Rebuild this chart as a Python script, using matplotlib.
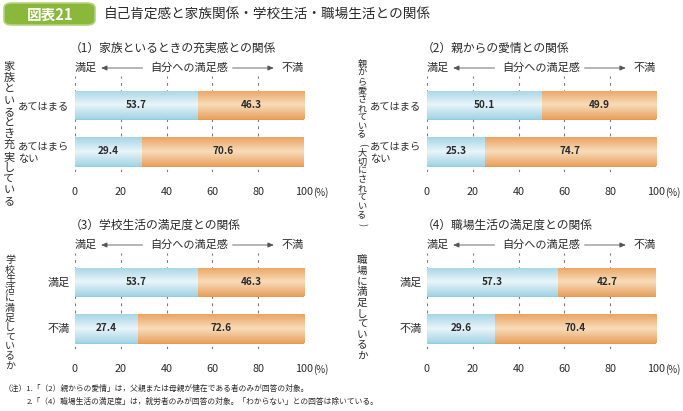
import numpy as np
import matplotlib
matplotlib.use("Agg")
import matplotlib.pyplot as plt
from matplotlib.colors import LinearSegmentedColormap
from matplotlib.patches import FancyBboxPatch

plt.rcParams["font.family"] = ["Noto Sans CJK JP", "DejaVu Sans"]

# data
fig_title = "自己肯定感と家族関係・学校生活・職場生活との関係"
panel_titles = ["（1）家族といるときの充実感との関係",
                "（2）親からの愛情との関係",
                "（3）学校生活の満足度との関係",
                "（4）職場生活の満足度との関係"]
side_labels = ["家族といるとき充実している",
               "親から愛されている（大切にされている）",
               "学校生活に満足しているか",
               "職場に満足しているか"]
categories = [["あてはまる", "あてはまら\nない"],
              ["あてはまる", "あてはまら\nない"],
              ["満足", "不満"],
              ["満足", "不満"]]
satisfied = [[53.7, 29.4], [50.1, 25.3], [53.7, 27.4], [57.3, 29.6]]
unsatisfied = [[46.3, 70.6], [49.9, 74.7], [46.3, 72.6], [42.7, 70.4]]
xticks = [0, 20, 40, 60, 80, 100]
notes = ["（注）1.「（2）親からの愛情」は，父親または母親が健在である者のみが回答の対象。",
         "2.「（4）職場生活の満足度」は，就労者のみが回答の対象。「わからない」との回答は除いている。"]

W, H = 683, 411
fig = plt.figure(figsize=(W / 100, H / 100), dpi=100)

blue_cm = LinearSegmentedColormap.from_list("b", ["#a6d5e6", "#e9f5f9", "#a3d3e4"])
orange_cm = LinearSegmentedColormap.from_list("o", ["#eba462", "#f8dcbb", "#e9a15e"])
grad = np.linspace(0, 1, 64).reshape(-1, 1)
text_col = "#2a2a2a"


def fx(px):
    return px / W


def fy(py):
    return 1 - py / H


# header
box = FancyBboxPatch((fx(4), fy(25)), fx(91), (22) / H,
                     boxstyle="round,pad=0,rounding_size=0.012",
                     transform=fig.transFigure, facecolor="#8ab83a",
                     edgecolor="#b5d47a", lw=1.2)
fig.patches.append(box)
fig.text(fx(50), fy(14.5), "図表21", color="white", fontsize=10.5,
         fontweight="bold", ha="center", va="center")
fig.text(fx(104), fy(15), fig_title, color=text_col, fontsize=9.8,
         ha="left", va="center")

lefts = [75, 427, 75, 427]
tops = [76, 76, 253, 253]
side_x = [9, 362, 10, 362]
side_y0 = [67, 64, 260, 260]
side_step = [11.2, 8.9, 9.6, 10.7]
side_fs = [8, 6.6, 7.2, 7.6]
cat_fs = [7.4, 7.4, 8, 8]
axw = 229
unit = 46.5
ylo, yhi = -0.62, 1.44
axh = (yhi - ylo) * unit

for i in range(4):
    ax = fig.add_axes([fx(lefts[i]), fy(tops[i] + axh), axw / W, axh / H])
    ypos = np.arange(len(categories[i]))
    b1 = ax.barh(ypos, satisfied[i], height=0.61, color="#c8e6f0",
                 edgecolor="#86c6dc", lw=0.6, zorder=3)
    b2 = ax.barh(ypos, unsatisfied[i], left=satisfied[i], height=0.61,
                 color="#f2c391", edgecolor="#e38e3e", lw=0.6, zorder=3)
    for bars, cm in ((b1, blue_cm), (b2, orange_cm)):
        for bar in bars:
            x0, y0 = bar.get_x(), bar.get_y()
            w, h = bar.get_width(), bar.get_height()
            im = ax.imshow(grad, cmap=cm, aspect="auto", zorder=3.5,
                           extent=[x0, x0 + w, y0 + h, y0])
            im.set_clip_path(bar)
            ax.text(x0 + w / 2, y0 + h / 2, f"{w:.1f}", ha="center",
                    va="center", fontsize=7.2, fontweight="bold",
                    color=text_col, zorder=5)
    for t in xticks:
        ax.axvline(t, color="#7a7a7a", lw=0.8, ls=(0, (2.5, 4)), zorder=1)
    ax.set_xlim(0, 100)
    ax.set_ylim(yhi, ylo)
    ax.set_xticks(xticks)
    ax.set_xticklabels([str(t) for t in xticks], fontsize=7.8, color=text_col)
    ax.set_yticks(ypos)
    ax.set_yticklabels(categories[i], fontsize=cat_fs[i], color=text_col)
    for lab in ax.get_yticklabels():
        lab.set_multialignment("left")
    ax.tick_params(axis="x", length=0, pad=11)
    ax.tick_params(axis="y", length=0, pad=4)
    for s in ax.spines.values():
        s.set_visible(False)
    ax.patch.set_visible(False)
    ax.annotate("(%)", xy=(100, 0), xycoords=("data", "axes fraction"),
                xytext=(6.5, -11), textcoords="offset points", fontsize=7,
                color=text_col, ha="left", va="top")

    # title and arrow row
    ax.text(-2.5, ylo - 28 / unit, panel_titles[i], fontsize=8.5,
            color=text_col, ha="left", va="center")
    row_y = ylo - 8 / unit
    ax.text(0, row_y, "満足", fontsize=8, color=text_col, ha="left", va="center")
    ax.text(100, row_y, "不満", fontsize=8, color=text_col, ha="right", va="center")
    ax.text(50, row_y, "自分への満足感", fontsize=8, color=text_col,
            ha="center", va="center")
    arr = dict(arrowstyle="-|>,head_length=0.35,head_width=0.15",
               color="#555555", lw=0.6, shrinkA=0, shrinkB=0)
    ax.annotate("", xy=(11.4, row_y), xytext=(29.5, row_y), arrowprops=arr,
                annotation_clip=False)
    ax.annotate("", xy=(86.8, row_y), xytext=(68.8, row_y), arrowprops=arr,
                annotation_clip=False)

    # vertical side label, one character per line
    for k, ch in enumerate(side_labels[i]):
        rot = 0
        if ch in "（）":
            ch = "(" if ch == "（" else ")"
            rot = -90
        fig.text(fx(side_x[i]), fy(side_y0[i] + k * side_step[i]), ch,
                 fontsize=side_fs[i], color=text_col, ha="center",
                 va="center", rotation=rot)

fig.text(fx(4), fy(389), notes[0], fontsize=5.6, color=text_col,
         ha="left", va="center")
fig.text(fx(27), fy(402), notes[1], fontsize=5.6, color=text_col,
         ha="left", va="center")

fig.savefig("out.png", dpi=100)
